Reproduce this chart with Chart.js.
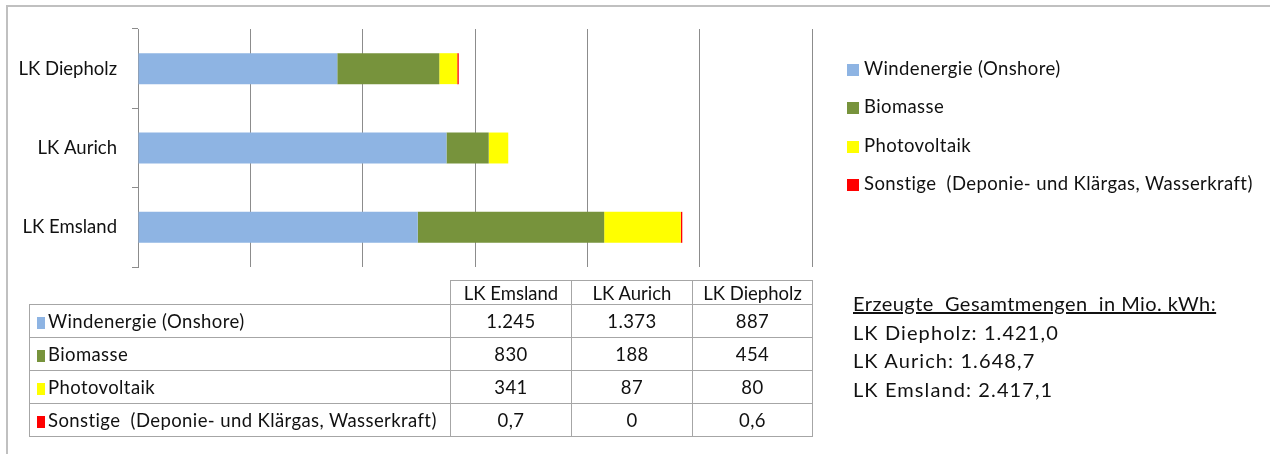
<!DOCTYPE html>
<html lang="de">
<head>
<meta charset="utf-8">
<title>Erzeugte Strommengen</title>
<script src="https://cdn.jsdelivr.net/npm/chart.js@4/dist/chart.umd.min.js"></script>
<style>
  body { margin: 0; background: #fff; font-family: Lato, "Open Sans", sans-serif; color: #111; }
  #rahmen { position: relative; width: 1270px; height: 454px; overflow: hidden; }
  #rahmen::before { content: ""; position: absolute; left: 6px; top: 5px; right: -2px; bottom: -2px;
    border-top: 2px solid #c0c0c0; border-left: 2px solid #c0c0c0; }
  canvas { position: absolute; left: 0; top: 0; }
  #legende { position: absolute; left: 847px; top: 49px; font-size: 18.5px; letter-spacing: 0.4px; }
  #legende div { height: 38.3px; line-height: 38.3px; white-space: pre; }
  #legende span { display: inline-block; width: 12px; height: 12px; margin-right: 5px; vertical-align: -1px; }
  #tabelle { position: absolute; left: 29px; top: 280px; border-collapse: collapse; font-size: 18.5px; letter-spacing: 0.4px; }
  #tabelle td { border: 1px solid #a6a6a6; padding: 0; text-align: center; white-space: pre; }
  #tabelle tr.kopf td { height: 23px; letter-spacing: 0; }
  #tabelle tr.kopf td.leer { border-top: none; border-left: none; }
  #tabelle tr.zeile td { height: 32px; }
  #tabelle td.name { text-align: left; padding-left: 7px; }
  #tabelle td.name span { display: inline-block; width: 8px; height: 12px; margin-right: 3px; vertical-align: -1px; }
  #summen { position: absolute; left: 853px; top: 289px; font-size: 20px; letter-spacing: 1.1px; line-height: 28.7px; white-space: pre; }
  #summen .titel { text-decoration: underline; letter-spacing: 0.45px; }
</style>
</head>
<body>
<div id="rahmen">
  <canvas id="grafik" width="1270" height="454"></canvas>
  <div id="legende"></div>
  <table id="tabelle"></table>
  <div id="summen"></div>
</div>
<script>
// Landkreise (Reihenfolge wie in der Tabelle, im Diagramm von unten nach oben)
const landkreise = ['LK Emsland', 'LK Aurich', 'LK Diepholz'];

// erzeugte Mengen in Mio. kWh je Energieträger
const windenergie = [1245, 1373, 887];
const biomasse = [830, 188, 454];
const photovoltaik = [341, 87, 80];
const sonstige = [0.7, 0, 0.6];

// Gesamtmengen laut Textfeld
const gesamtmengen = [2417.1, 1648.7, 1421.0];

const traeger = ['Windenergie (Onshore)', 'Biomasse', 'Photovoltaik', 'Sonstige  (Deponie- und Klärgas, Wasserkraft)'];
const farben = ['#8EB4E3', '#77933C', '#FFFF00', '#FF0000'];
const werte = [windenergie, biomasse, photovoltaik, sonstige];

// Achse: 0 bis 3000 in 500er Schritten
const achseMax = 3000;
const achseSchritt = 500;

// deutsche Schreibweise: Tausenderpunkt und Dezimalkomma
function formatiere(wert, stellen) {
    const teile = wert.toFixed(stellen).split('.');
    teile[0] = teile[0].replace(/\B(?=(\d{3})+(?!\d))/g, '.');
    return teile.join(',');
}

function tabellenWert(wert) {
    return Number.isInteger(wert) ? formatiere(wert, 0) : formatiere(wert, 1);
}

// Legende rechts
const legende = document.querySelector('#legende');
traeger.forEach((name, i) => {
    const zeile = document.createElement('div');
    zeile.innerHTML = '<span style="background:' + farben[i] + '"></span>';
    zeile.appendChild(document.createTextNode(name));
    legende.appendChild(zeile);
});

// Datentabelle unter dem Diagramm
const tabelle = document.querySelector('#tabelle');
let html = '<colgroup><col style="width:421px"><col style="width:121px"><col style="width:121px"><col style="width:120px"></colgroup>';
html += '<tr class="kopf"><td class="leer"></td>' + landkreise.map(lk => '<td>' + lk + '</td>').join('') + '</tr>';
traeger.forEach((name, i) => {
    html += '<tr class="zeile"><td class="name"><span style="background:' + farben[i] + '"></span>' + name + '</td>';
    html += werte[i].map(w => '<td>' + tabellenWert(w) + '</td>').join('') + '</tr>';
});
tabelle.innerHTML = html;

// Textfeld mit den Gesamtmengen (oben Diepholz, unten Emsland)
const summen = document.querySelector('#summen');
let text = '<div class="titel">Erzeugte  Gesamtmengen  in Mio. kWh:</div>';
for (let i = landkreise.length - 1; i >= 0; i--) {
    text += '<div>' + landkreise[i] + ': ' + formatiere(gesamtmengen[i], 1) + '</div>';
}
summen.innerHTML = text;

// gestapeltes Balkendiagramm
const datensaetze = traeger.map((name, i) => ({
    label: name,
    // ein Wert von 0 wird gar nicht gezeichnet, sonst entsteht durch minBarLength ein Strich
    data: werte[i].map(w => (w === 0 ? null : w)),
    backgroundColor: farben[i],
    borderWidth: 0,
    minBarLength: i === 3 ? 1.5 : 0,
    categoryPercentage: 1,
    barPercentage: 0.39
}));

new Chart(document.querySelector('#grafik'), {
    type: 'bar',
    data: { labels: landkreise, datasets: datensaetze },
    options: {
        indexAxis: 'y',
        responsive: false,
        animation: false,
        devicePixelRatio: 1,
        layout: { padding: { left: 0, top: 29, right: 458, bottom: 187 } },
        plugins: { legend: { display: false }, tooltip: { enabled: false } },
        scales: {
            x: {
                stacked: true,
                min: 0,
                max: achseMax,
                ticks: { display: false, stepSize: achseSchritt },
                grid: { color: '#8c8c8c', drawTicks: false },
                border: { display: false },
                afterFit: (skala) => { skala.height = 0; }
            },
            y: {
                stacked: true,
                reverse: true,
                ticks: { color: '#111', padding: 15, font: { family: 'Lato', size: 18.5 } },
                grid: { drawOnChartArea: false, tickLength: 6, color: '#8c8c8c', offset: true },
                border: { color: '#8c8c8c' },
                afterFit: (skala) => { skala.width = 138; }
            }
        }
    }
});
</script>
</body>
</html>
